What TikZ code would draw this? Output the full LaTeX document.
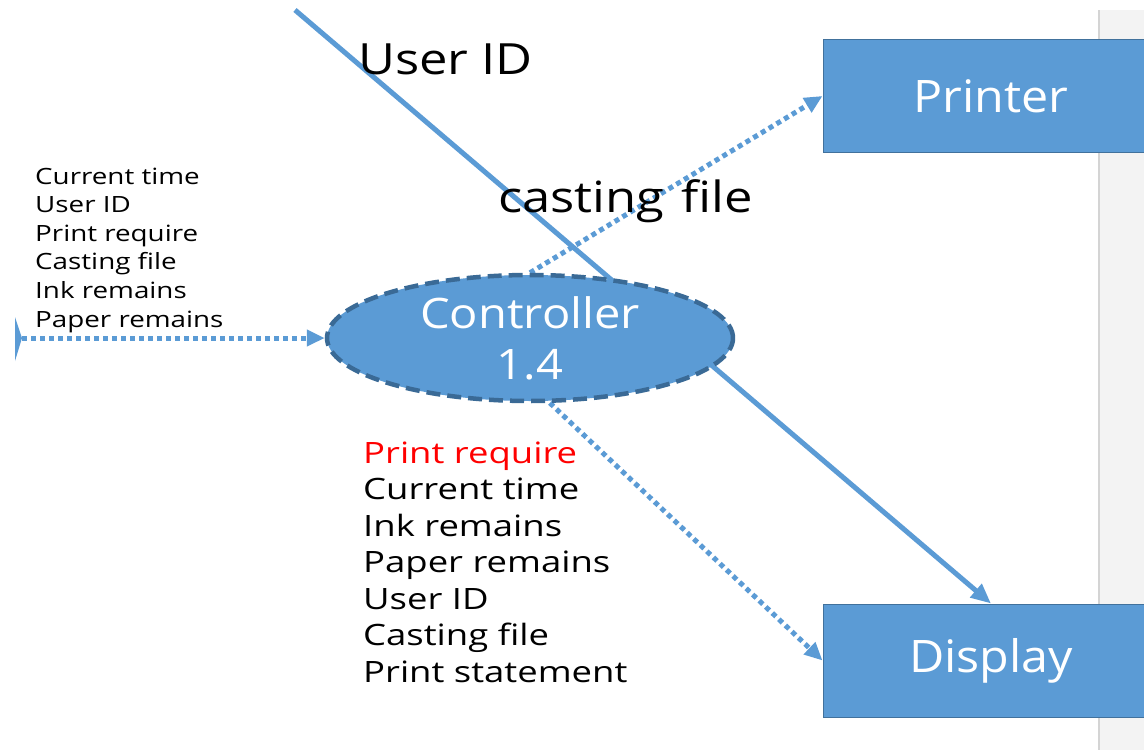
\documentclass[tikz,border=0pt]{standalone}
\usepackage{fontspec}
\setmainfont{Open Sans}
\newfontfamily\fbig[FakeStretch=1.08]{Open Sans}
\newfontfamily\fctrl[FakeStretch=1.12]{Open Sans}
\newfontfamily\fmid[FakeStretch=1.18]{Open Sans}
\newfontfamily\fsmall[FakeStretch=1.24]{Open Sans}
\usetikzlibrary{arrows.meta,shapes.geometric,backgrounds}
\definecolor{boxblue}{HTML}{5B9BD5}
\definecolor{edgeblue}{HTML}{41719C}
\definecolor{ovaledge}{HTML}{3A6A96}
\definecolor{panelgray}{HTML}{F3F3F3}
\definecolor{panelline}{HTML}{D4D4D4}
\definecolor{txtred}{HTML}{FF0000}
\begin{document}
\begin{tikzpicture}[x=1pt,y=-1pt,
  entity/.style={rectangle, fill=boxblue, draw=edgeblue, line width=1pt, minimum width=336pt, minimum height=113pt, inner sep=0pt, text=white, font=\fbig\fontsize{44.8}{52}\selectfont},
  process/.style={ellipse, fill=boxblue, draw=ovaledge, line width=4.5pt, dash pattern=on 14pt off 7pt, minimum width=406pt, minimum height=126pt, inner sep=0pt, text=white, align=center, font=\fctrl\fontsize{42}{51}\selectfont},
  flow/.style={draw=boxblue, line width=5pt, -{Triangle[length=20pt,width=17pt]}},
  dotflow/.style={draw=boxblue, line width=5pt, dash pattern=on 5pt off 4pt, -{Triangle[length=18pt,width=16pt]}},
  flowlabel/.style={inner sep=0pt, anchor=base west, font=\fmid\fontsize{43}{50}\selectfont},
  datalist/.style={inner sep=0pt, align=left, anchor=base west}
]
\useasboundingbox (0,0) rectangle (1144,750);
\node[process] (ctrl) at (530,338) {Controller\\1.4};
\node[entity] (printer) at (991,96) {Printer};
\node[entity] (display) at (991,660.5) {Display};
\coordinate (src) at (295,10);
\coordinate (ext) at (22,338);
\begin{pgfonlayer}{background}
\fill[white] (0,0) rectangle (1144,750);
\fill[panelgray] (1099,10) rectangle (1144,750);
\draw[panelline, line width=2pt] (1099,10) -- (1099,750);
\fill[boxblue] (15,317) -- (ext) -- (15,361) -- cycle;
\draw[flow] (src) -- (display.north);
\draw[dotflow] (ext) -- (ctrl.west);
\draw[dotflow] (ctrl.north) -- (printer.west);
\draw[dotflow] (ctrl.-73) -- (display.west);
\end{pgfonlayer}
\node[flowlabel] (uid) at (358,74) {User ID};
\node[flowlabel] (cast) at (498,212) {casting\hspace{4pt} file};
\node[datalist, font=\fsmall\fontsize{22.4}{28.6}\selectfont] (inlist) at (35,327) {Current time\\User ID\\Print require\\Casting file\\Ink remains\\Paper remains};
\node[datalist, font=\fsmall\fontsize{29.4}{36.5}\selectfont] (outlist) at (363,682) {\textcolor{txtred}{Print require}\\Current time\\Ink remains\\Paper remains\\User ID\\Casting file\\Print statement};
\end{tikzpicture}
\end{document}
